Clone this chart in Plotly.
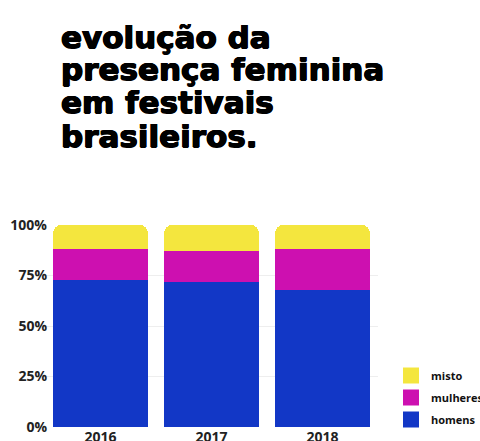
import plotly.graph_objects as go

# Share of acts per festival year, by line-up composition (percent)
years = ["2016", "2017", "2018"]
homens = [73, 72, 68]
mulheres = [15, 15, 20]
misto = [12, 13, 12]

series = [
    ("homens", homens, "#1237C6", 3),
    ("mulheres", mulheres, "#CD10B0", 2),
    ("misto", misto, "#F4E63E", 1),
]

title_lines = ["evolução da", "presença feminina", "em festivais", "brasileiros."]
y_ticks = [0, 25, 50, 75, 100]
y_tick_text = ["0%", "25%", "50%", "75%", "100%"]

fig = go.Figure()
for name, vals, color, rank in series:
    fig.add_trace(go.Bar(
        x=years, y=vals, name=name, showlegend=False,
        marker=dict(color=color, line=dict(width=0)),
    ))
    # legend swatch as a larger square marker
    fig.add_trace(go.Scatter(
        x=[None], y=[None], mode="markers", name=name, legendgroup=name,
        legendrank=rank,
        marker=dict(symbol="square", size=16, color=color, line=dict(width=0)),
    ))

# plot area occupies pixels x 45..378, y 225..427
PLOT_TOP, PLOT_BOTTOM, PLOT_LEFT, PLOT_W = 225, 427, 45, 333
def py(p):
    return (PLOT_BOTTOM - p) / (PLOT_BOTTOM - PLOT_TOP)
def px(p):
    return (p - PLOT_LEFT) / PLOT_W

annotations = []
baselines = [47, 79, 112, 146]
for line, base in zip(title_lines, baselines):
    annotations.append(dict(
        text=line, xref="paper", yref="paper", x=px(59), y=py(base - 10),
        xanchor="left", yanchor="middle", showarrow=False,
        font=dict(
            family="DejaVu Sans", size=31, color="#000000", weight="bold",
            shadow="0.7px 0 0 #000, -0.7px 0 0 #000, 0 0.5px 0 #000, 0 -0.5px 0 #000",
        ),
    ))

fig.update_layout(
    width=480, height=441,
    margin=dict(l=PLOT_LEFT, r=480 - PLOT_LEFT - PLOT_W, t=PLOT_TOP, b=441 - PLOT_BOTTOM,
                pad=0, autoexpand=False),
    paper_bgcolor="white", plot_bgcolor="white",
    barmode="stack", bargap=0.145, barcornerradius=8,
    annotations=annotations,
    showlegend=True,
    legend=dict(
        x=px(391), y=py(361), xanchor="left", yanchor="top",
        traceorder="grouped", tracegroupgap=3, bgcolor="rgba(0,0,0,0)",
        font=dict(family="Open Sans", size=11, color="#111111", weight="bold"),
        itemwidth=30,
    ),
    xaxis=dict(
        showgrid=False, showline=False, zeroline=False, ticks="",
        automargin=False, fixedrange=True,
        tickfont=dict(family="Open Sans", size=14, color="#222222", weight="bold"),
        ticklabelstandoff=0,
    ),
    yaxis=dict(
        range=[0, 100], tickmode="array", tickvals=y_ticks, ticktext=y_tick_text,
        showgrid=True, gridcolor="#EEEEEE", gridwidth=1, zeroline=False,
        automargin=False, fixedrange=True,
        tickfont=dict(family="Open Sans", size=14, color="#222222", weight="bold"),
        ticklabelstandoff=-3,
    ),
)

fig.write_html("out.html")
